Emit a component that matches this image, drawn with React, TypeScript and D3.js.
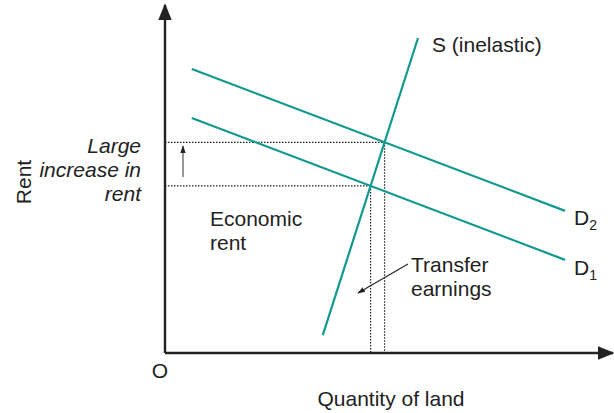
import React from 'react';
import * as d3 from 'd3';

// line endpoints in data units (x: quantity 0..10, y: rent 0..10)
const supply = [[3.53, 0.52], [5.66, 9.13]];
const demand2 = [[0.6, 8.23], [8.95, 4.12]];
const demand1 = [[0.6, 6.81], [8.95, 2.7]];
const rentLabel = ['Large', 'increase in', 'rent'];
const economicLabel = ['Economic', 'rent'];
const transferLabel = ['Transfer', 'earnings'];

const W = 614;
const H = 413;
const teal = '#11998f';
const font = 'Liberation Sans, Arial, sans-serif';

const x = d3.scaleLinear().domain([0, 10]).range([165, 612]);
const y = d3.scaleLinear().domain([0, 10]).range([353, 8]);

// intersection of two segments' lines
function intersect(a, b) {
  const [[x1, y1], [x2, y2]] = a;
  const [[x3, y3], [x4, y4]] = b;
  const d = (x1 - x2) * (y3 - y4) - (y1 - y2) * (x3 - x4);
  const t = ((x1 - x3) * (y3 - y4) - (y1 - y3) * (x3 - x4)) / d;
  return [x1 + t * (x2 - x1), y1 + t * (y2 - y1)];
}

const line = d3.line().x(d => x(d[0])).y(d => y(d[1]));

export default function App() {
  const e1 = intersect(supply, demand1);
  const e2 = intersect(supply, demand2);
  const dotted = { stroke: '#222', strokeWidth: 1.2, strokeDasharray: '1.5,1.5', fill: 'none' };

  return (
    <svg width={W} height={H} style={{ position: 'absolute', left: 0, top: 0 }} fontFamily={font}>
      <defs>
        <marker id="ah" viewBox="0 0 10 10" refX="9" refY="5" markerWidth="7" markerHeight="7" orient="auto">
          <path d="M0,1 L10,5 L0,9 z" fill="#222" />
        </marker>
        <marker id="ahs" viewBox="0 0 10 10" refX="9" refY="5" markerWidth="7" markerHeight="7" orient="auto">
          <path d="M0,1.5 L10,5 L0,8.5 z" fill="#222" />
        </marker>
      </defs>

      {/* dotted guides */}
      {[e1, e2].map((e, i) => (
        <g key={i}>
          <line x1={x(0)} x2={x(e[0])} y1={y(e[1])} y2={y(e[1])} {...dotted} />
          <line x1={x(e[0])} x2={x(e[0])} y1={y(e[1])} y2={y(0)} {...dotted} />
        </g>
      ))}

      {/* curves */}
      <path d={line(supply)} stroke={teal} strokeWidth={2.2} fill="none" />
      <path d={line(demand2)} stroke={teal} strokeWidth={2.2} fill="none" />
      <path d={line(demand1)} stroke={teal} strokeWidth={2.2} fill="none" />

      {/* axes */}
      <line x1={x(0)} y1={y(0)} x2={x(0)} y2={5} stroke="#222" strokeWidth={2.4} markerEnd="url(#ah)" />
      <line x1={x(0)} y1={y(0)} x2={613} y2={y(0)} stroke="#222" strokeWidth={2.4} markerEnd="url(#ah)" />

      {/* small arrows */}
      <line x1={183} y1={177} x2={183} y2={146} stroke="#444" strokeWidth={1.1} markerEnd="url(#ahs)" />
      <line x1={408} y1={264} x2={358} y2={293} stroke="#222" strokeWidth={1.1} markerEnd="url(#ahs)" />

      {/* labels */}
      <g fontSize={21} fill="#222">
        <text x={432} y={52}>S (inelastic)</text>
        <text x={574} y={225}>D<tspan fontSize={14} dy={5}>2</tspan></text>
        <text x={574} y={275}>D<tspan fontSize={14} dy={5}>1</tspan></text>
        {economicLabel.map((t, i) => (
          <text key={t} x={210} y={226 + i * 24}>{t}</text>
        ))}
        {transferLabel.map((t, i) => (
          <text key={t} x={411} y={272 + i * 24}>{t}</text>
        ))}
        {rentLabel.map((t, i) => (
          <text key={t} x={141} y={153 + i * 24} textAnchor="end" fontStyle="italic">{t}</text>
        ))}
        <text transform="translate(31,182) rotate(-90)" textAnchor="middle">Rent</text>
        <text x={160} y={378} textAnchor="middle">O</text>
        <text x={391} y={406} textAnchor="middle">Quantity of land</text>
      </g>
    </svg>
  );
}
